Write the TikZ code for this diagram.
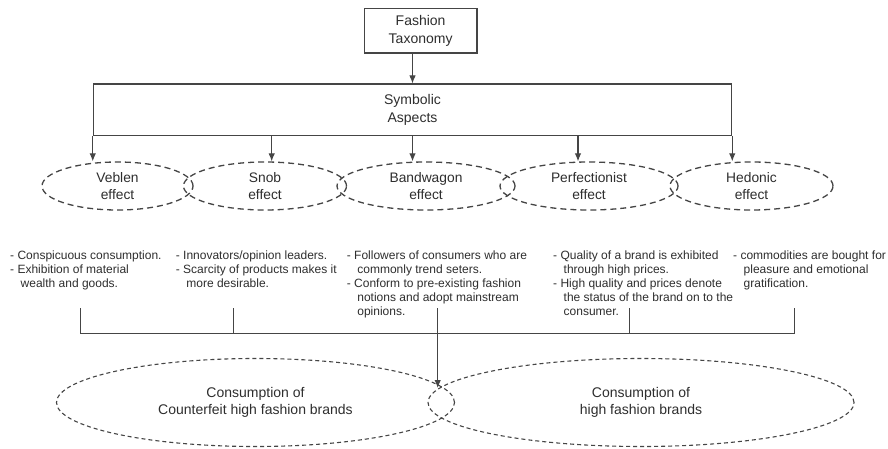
\documentclass[tikz,border=0pt]{standalone}
\usepackage{fontspec}
\setmainfont{Liberation Sans}
\usetikzlibrary{shapes.geometric,arrows.meta}
\definecolor{linec}{HTML}{454545}
\definecolor{txtc}{HTML}{2E2E2E}
\tikzset{
  box/.style={draw=linec, line width=1.1pt, inner sep=0pt, font=\fontsize{14}{17.5}\selectfont, text=txtc, align=center},
  eff/.style={draw=linec, ellipse, dash pattern=on 6pt off 4pt, line width=1.3pt, inner sep=0pt,
              font=\fontsize{13.8}{17}\selectfont, text=txtc, align=center},
  cons/.style={draw=linec, ellipse, dash pattern=on 4pt off 3pt, line width=1.1pt, inner sep=0pt,
              font=\fontsize{14}{17.7}\selectfont, text=txtc, align=center},
  desc/.style={font=\fontsize{12}{14.2}\selectfont, text=txtc, align=left, anchor=north west, inner sep=0pt},
  conn/.style={draw=linec, line width=1.1pt},
  arr/.style={conn, -{Latex[length=8pt,width=6.5pt]}},
}
\newcommand{\cont}{\hspace*{10.5pt}}
\begin{document}
\begin{tikzpicture}[x=1pt,y=-1pt]
\useasboundingbox[fill=white] (0,0) rectangle (888,449);

% top boxes
\node[box, minimum width=112.7pt, minimum height=44.7pt] (fash) at (420.6,30.7) {Fashion\\Taxonomy};
\node[box, minimum width=638.4pt, minimum height=51.7pt] (sym) at (412.5,109.85) {Symbolic\\Aspects};
\draw[arr] (fash.south -| sym.north) -- (sym.north);

% effect ellipses
\node[eff, minimum width=151pt, minimum height=48pt] (veb) at (117.5,186) {Veblen\\effect};
\node[eff, minimum width=163pt, minimum height=48pt] (snob) at (265,186) {Snob\\effect};
\node[eff, minimum width=178pt, minimum height=48pt] (band) at (426,186) {Bandwagon\\effect};
\node[eff, minimum width=178pt, minimum height=48pt] (perf) at (589,186) {Perfectionist\\effect};
\node[eff, minimum width=163pt, minimum height=48pt] (hed) at (751.5,186) {Hedonic\\effect};

% arrows from symbolic aspects
\coordinate (a2) at (271.7,135.7);
\coordinate (a4) at (578,135.7);
\draw[arr] (sym.south west) -- (sym.south west |- veb.north);
\draw[arr] (a2) -- (a2 |- snob.north);
\draw[arr] (sym.south) -- (sym.south |- band.north);
\draw[arr] (a4) -- (a4 |- perf.north);
\draw[arr] (sym.south east) -- (sym.south east |- hed.north);

% descriptions
\node[desc] (dveb) at (10,249) {\strut- Conspicuous consumption.\\- Exhibition of material\\\cont wealth and goods.};
\node[desc] (dsnob) at (175.7,249) {\strut- Innovators/opinion leaders.\\- Scarcity of products makes it\\\cont more desirable.};
\node[desc] (dband) at (346.7,249) {\strut- Followers of consumers who are\\\cont commonly trend seters.\\- Conform to pre-existing fashion\\\cont notions and adopt mainstream\\\cont opinions.};
\node[desc] (dperf) at (553,249) {\strut- Quality of a brand is exhibited\\\cont through high prices.\\- High quality and prices denote\\\cont the status of the brand on to the\\\cont consumer.};
\node[desc] (dhed) at (733,249) {\strut- commodities are bought for\\\cont pleasure and emotional\\\cont gratification.};

% consumption ellipses
\node[cons, minimum width=398pt, minimum height=88pt] (cf) at (255.5,402.5) {Consumption of\\Counterfeit high fashion brands};
\node[cons, minimum width=426pt, minimum height=88pt] (hf) at (641,402.5) {Consumption of\\high fashion brands};

% bracket
\coordinate (b1) at (80.7,308);
\coordinate (b2) at (233.3,308);
\coordinate (b3) at (437.7,308);
\coordinate (b4) at (629.3,308);
\coordinate (b5) at (794.3,308);
\coordinate (bl) at (80.7,333.3);
\coordinate (br) at (794.3,333.3);
\coordinate (tip) at (437.7,388);
\draw[conn] (b1) -- (bl) -- (br) -- (b5);
\draw[conn] (b2) -- (b2 |- bl);
\draw[conn] (b4) -- (b4 |- bl);
\draw[arr] (b3) -- (tip);
\end{tikzpicture}
\end{document}
